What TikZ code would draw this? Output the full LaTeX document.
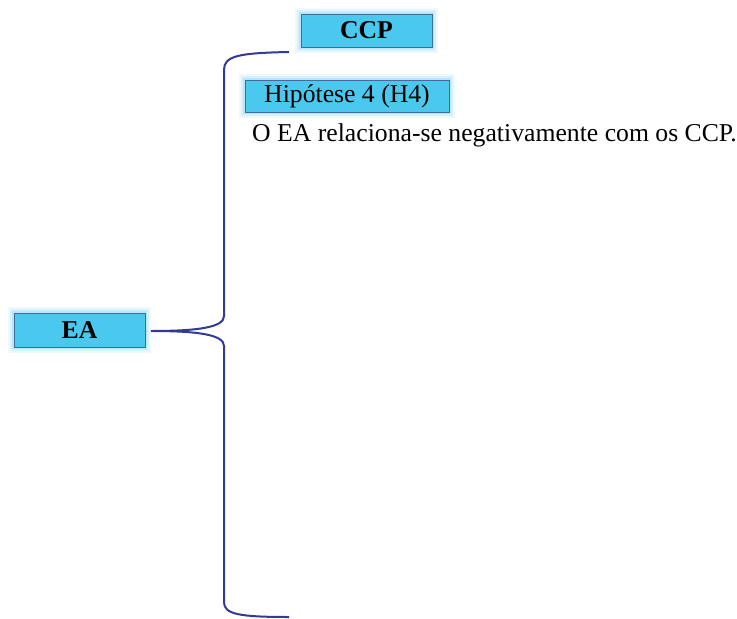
\documentclass[tikz,border=0pt]{standalone}
\usepackage{fontspec}
\setmainfont{Liberation Serif}
\begin{document}
\begin{tikzpicture}[x=1pt,y=-1pt,
  box/.style={draw=boxborder, line width=0.8pt, fill=boxfill, inner sep=0pt,
    preaction={draw=glow, line width=12pt, opacity=0.12},
    preaction={draw=glow, line width=8pt, opacity=0.2},
    preaction={draw=glow, line width=4pt, opacity=0.35}},
  lbl/.style={font=\fontsize{25.7}{30}\selectfont, text=black},
  brace/.style={draw=bracecol, line width=2pt}]
\definecolor{boxfill}{HTML}{4BC8EE}
\definecolor{boxborder}{HTML}{3D6E9E}
\definecolor{glow}{HTML}{7FD0F2}
\definecolor{bracecol}{HTML}{333A94}
\useasboundingbox (0,0) rectangle (737,619);
\node[box, minimum width=131pt, minimum height=33pt, lbl, font=\fontsize{25.7}{30}\selectfont\bfseries] (ccp) at (366.5,30.5) {CCP};
\node[box, minimum width=204pt, minimum height=32pt, lbl] (h4) at (347,96) {Hipótese 4 (H4)};
\node[box, minimum width=131pt, minimum height=34pt, lbl, font=\fontsize{25.7}{30}\selectfont\bfseries] (ea) at (79.5,330) {EA};
\node[lbl, anchor=base west, inner sep=0pt] (txt) at (252,141) {O EA relaciona-se negativamente com os CCP.};
\coordinate (tip) at (151,331);
\coordinate (top) at (289,52);
\coordinate (bot) at (289,617);
\draw[brace] (top) .. controls (238,53) and (224,56) .. (224,70) -- (224,316)
  .. controls (224,327) and (200,331) .. (tip)
  .. controls (200,331) and (224,335) .. (224,346) -- (224,602)
  .. controls (224,614) and (238,617) .. (bot);
\end{tikzpicture}
\end{document}
